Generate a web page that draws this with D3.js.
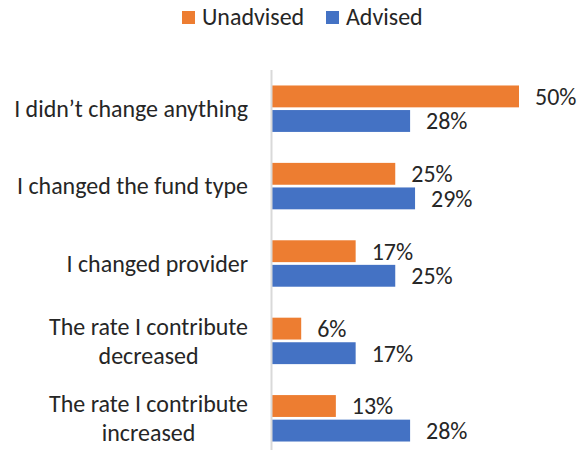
<!DOCTYPE html>
<html><head><meta charset="utf-8">
<script src="https://cdn.jsdelivr.net/npm/d3@7"></script>
<style>
body{margin:0;background:#fff;}
svg{display:block;font-family:Carlito,"Open Sans",Lato,sans-serif;}
</style></head>
<body>
<svg id="c" width="586" height="450"></svg>
<script>
const categories = [
  ["I didn\u2019t change anything"],
  ["I changed the fund type"],
  ["I changed provider"],
  ["The rate I contribute","decreased"],
  ["The rate I contribute","increased"]
];
const seriesNames = ["Unadvised","Advised"];
const unadvised = [50,25,17,6,13];
const advised = [28,29,25,17,28];
const colors = ["#ED7D31","#4472C4"];

const svg = d3.select("#c");
// size the font so the longest label matches the reference width
const probe = svg.append("text").attr("font-size",20).text(categories[0][0]);
const w20 = probe.node().getComputedTextLength();
probe.remove();
const fs = Math.min(24, 20*234/w20);

const x0 = 271.5;
const x = d3.scaleLinear().domain([0,50]).range([x0,519]);
const y = d3.scaleBand().domain(d3.range(categories.length)).range([70,457]).paddingInner(0.4).paddingOuter(0.2);
const inner = d3.scaleBand().domain(seriesNames).range([0,y.bandwidth()]).paddingInner(0.11);

const data = categories.map((c,i)=>({c, vals:[unadvised[i],advised[i]]}));

const g = svg.append("g");
data.forEach((d,i)=>{
  d.vals.forEach((v,j)=>{
    const yy = y(i)+inner(seriesNames[j]);
    g.append("rect").attr("x",x(0)).attr("y",yy).attr("width",x(v)-x(0)).attr("height",inner.bandwidth()).attr("fill",colors[j]);
    g.append("text").attr("x",x(v)+16).attr("y",yy+inner.bandwidth()/2).attr("dy","0.35em")
      .attr("font-size",fs).attr("fill","#262626").text(v+"%");
  });
  const cy = y(i)+y.bandwidth()/2;
  const n = d.c.length;
  const lh = 28.5;
  const t = g.append("text").attr("font-size",fs).attr("fill","#262626").attr("text-anchor","middle");
  d.c.forEach((line,k)=>{
    t.append("tspan").attr("y",cy+(k-(n-1)/2)*lh).attr("dy","0.35em").text(line);
  });
  const widths = [];
  t.selectAll("tspan").each(function(){widths.push(this.getComputedTextLength());});
  const maxW = d3.max(widths);
  t.selectAll("tspan").attr("x",248-maxW/2);
});
svg.append("line").attr("x1",x0).attr("x2",x0).attr("y1",70).attr("y2",457).attr("stroke","#D9D9D9").attr("stroke-width",2);

const leg = svg.append("g");
const legX = [182,326];
seriesNames.forEach((s,j)=>{
  leg.append("rect").attr("x",legX[j]).attr("y",11).attr("width",13).attr("height",13).attr("fill",colors[j]);
  leg.append("text").attr("x",legX[j]+20).attr("y",25).attr("font-size",fs).attr("fill","#262626").text(s);
});
</script>
</body></html>
